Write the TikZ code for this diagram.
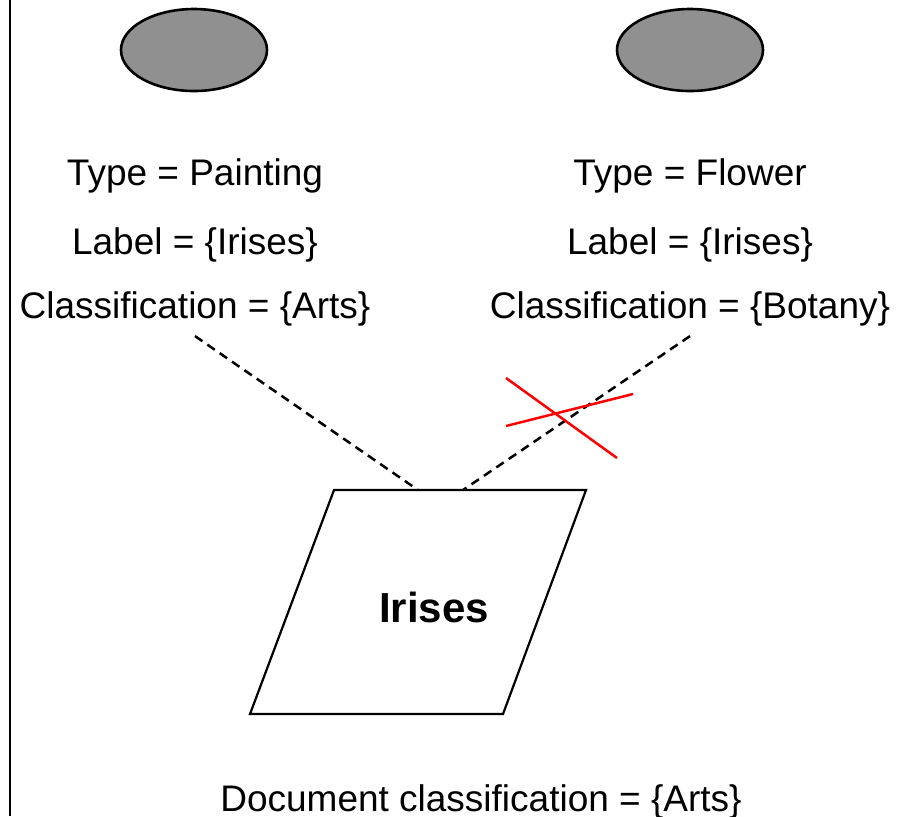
\documentclass[tikz,border=0pt]{standalone}
\usepackage{fontspec}
\setmainfont{Liberation Sans}
\usepackage{tikz}
\usetikzlibrary{shapes.geometric}
\definecolor{ovalfill}{HTML}{909090}
\definecolor{crossred}{HTML}{FF0000}

\begin{document}
\begin{tikzpicture}[x=0.5pt, y=-0.5pt,
  font=\fontsize{18.5}{22}\selectfont,
  obj/.style={ellipse, draw, fill=ovalfill, line width=1.3pt,
              minimum width=73pt, minimum height=41pt, inner sep=0pt},
  attr/.style={anchor=base, inner sep=5pt},
  title/.style={font=\fontsize{21}{25}\selectfont\bfseries, inner sep=2pt},
  doc/.style={draw, line width=1.1pt, line join=miter},
  link/.style={draw, line width=1.25pt, dash pattern=on 4.5pt off 3pt},
  cross/.style={draw=crossred, line width=1.25pt}]

  \useasboundingbox (0,0) rectangle (908,816);
  \draw[line width=1.1pt] (10,0) -- (10,816);

  \node[obj] (paint) at (194,50) {};
  \node[obj] (flower) at (690,50) {};
  % lane painting
  \node[attr] (ptype) at (195,185) {Type = Painting};
  \node[attr] (plab) at (195,254) {Label = \{Irises\}};
  \node[attr] (pcls) at (195,318) {Classification = \{Arts\}};
  % lane flower
  \node[attr] (ftype) at (690,185) {Type = Flower};
  \node[attr] (flab) at (690,254) {Label = \{Irises\}};
  \node[attr] (fcls) at (690,318) {Classification = \{Botany\}};

  % document
  \draw[doc] (250,714) -- (334,490) -- (586,490) -- (503,714) -- cycle;
  \node[title] (iris) at (434,607) {Irises};
  \coordinate (inA) at (418,490);
  \coordinate (inB) at (463,490);
  \node[attr] (docclass) at (481,811) {Document classification = \{Arts\}};

  \draw[link] (pcls.south) -- (inA);
  \draw[link] (fcls.south) -- (inB);
  \draw[cross] (506,378) -- (617,458);
  \draw[cross] (506,426) -- (633,394);
\end{tikzpicture}
\end{document}
